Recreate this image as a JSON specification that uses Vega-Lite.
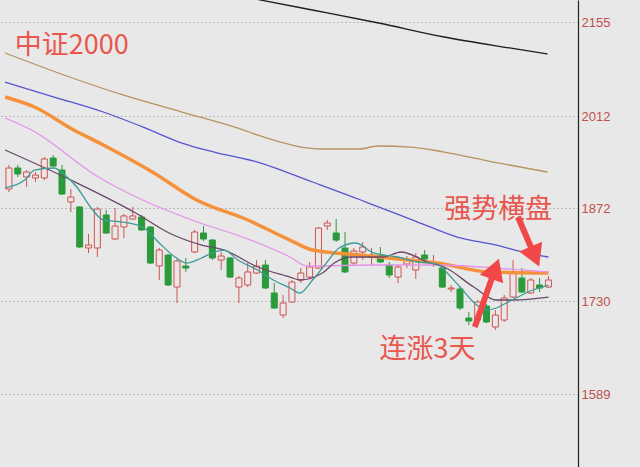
{
  "$schema": "https://vega.github.io/schema/vega-lite/v6.json",
  "width": 578,
  "height": 467,
  "autosize": {"type": "none"},
  "padding": {"left": 0, "top": 0, "right": 62, "bottom": 0},
  "background": "#e8e8e8",
  "config": {
    "view": {"stroke": null},
    "axis": {"labelFont": "Liberation Sans"}
  },
  "datasets": {
    "candles": [
      {"i":0,"o":1900.9,"h":1937.5,"l":1896.4,"c":1932.9},
      {"i":1,"o":1932.9,"h":1937.5,"l":1919.2,"c":1923.8},
      {"i":2,"o":1919.2,"h":1929.8,"l":1904.0,"c":1926.8},
      {"i":3,"o":1917.7,"h":1926.8,"l":1911.6,"c":1922.2},
      {"i":4,"o":1917.7,"h":1949.6,"l":1914.6,"c":1946.6},
      {"i":5,"o":1948.1,"h":1952.7,"l":1934.4,"c":1935.9},
      {"i":6,"o":1929.8,"h":1937.5,"l":1891.8,"c":1893.3},
      {"i":7,"o":1881.2,"h":1900.9,"l":1865.9,"c":1888.8},
      {"i":8,"o":1873.6,"h":1875.1,"l":1811.2,"c":1812.7},
      {"i":9,"o":1811.2,"h":1832.5,"l":1803.6,"c":1815.7},
      {"i":10,"o":1811.2,"h":1873.6,"l":1797.5,"c":1870.5},
      {"i":11,"o":1861.4,"h":1869.0,"l":1832.5,"c":1834.0},
      {"i":12,"o":1824.9,"h":1872.0,"l":1823.3,"c":1844.6},
      {"i":13,"o":1843.1,"h":1862.9,"l":1826.4,"c":1859.9},
      {"i":14,"o":1855.3,"h":1873.6,"l":1853.8,"c":1859.9},
      {"i":15,"o":1858.3,"h":1861.4,"l":1837.0,"c":1838.6},
      {"i":16,"o":1843.1,"h":1844.6,"l":1786.8,"c":1788.3},
      {"i":17,"o":1783.8,"h":1811.2,"l":1762.5,"c":1808.1},
      {"i":18,"o":1800.5,"h":1802.0,"l":1753.4,"c":1754.9},
      {"i":19,"o":1751.8,"h":1794.4,"l":1727.5,"c":1791.4},
      {"i":20,"o":1783.8,"h":1796.0,"l":1774.7,"c":1780.7},
      {"i":21,"o":1805.1,"h":1838.6,"l":1803.6,"c":1835.5},
      {"i":22,"o":1834.0,"h":1844.6,"l":1821.8,"c":1824.9},
      {"i":23,"o":1823.3,"h":1824.9,"l":1792.9,"c":1796.0},
      {"i":24,"o":1792.9,"h":1805.1,"l":1777.7,"c":1799.0},
      {"i":25,"o":1796.0,"h":1797.5,"l":1765.5,"c":1767.0},
      {"i":26,"o":1751.8,"h":1768.6,"l":1727.5,"c":1765.5},
      {"i":27,"o":1754.9,"h":1788.3,"l":1751.8,"c":1774.7},
      {"i":28,"o":1773.1,"h":1792.9,"l":1771.6,"c":1783.8},
      {"i":29,"o":1785.3,"h":1792.9,"l":1748.8,"c":1750.3},
      {"i":30,"o":1742.7,"h":1757.9,"l":1718.4,"c":1719.9},
      {"i":31,"o":1709.2,"h":1739.7,"l":1704.7,"c":1727.5},
      {"i":32,"o":1729.0,"h":1762.5,"l":1727.5,"c":1759.4},
      {"i":33,"o":1762.5,"h":1780.7,"l":1757.9,"c":1773.1},
      {"i":34,"o":1767.0,"h":1789.9,"l":1765.5,"c":1782.3},
      {"i":35,"o":1780.7,"h":1843.1,"l":1779.2,"c":1841.6},
      {"i":36,"o":1844.6,"h":1853.8,"l":1838.6,"c":1849.2},
      {"i":37,"o":1834.0,"h":1855.3,"l":1820.3,"c":1823.3},
      {"i":38,"o":1811.2,"h":1835.5,"l":1773.1,"c":1774.7},
      {"i":39,"o":1788.3,"h":1811.2,"l":1785.3,"c":1806.6},
      {"i":40,"o":1805.1,"h":1820.3,"l":1792.9,"c":1812.7},
      {"i":41,"o":1797.5,"h":1811.2,"l":1785.3,"c":1800.5},
      {"i":42,"o":1800.5,"h":1812.7,"l":1788.3,"c":1789.9},
      {"i":43,"o":1785.3,"h":1789.9,"l":1765.5,"c":1770.1},
      {"i":44,"o":1767.0,"h":1785.3,"l":1757.9,"c":1782.3},
      {"i":45,"o":1786.8,"h":1799.0,"l":1780.7,"c":1792.9},
      {"i":46,"o":1777.7,"h":1803.6,"l":1764.0,"c":1797.5},
      {"i":47,"o":1800.5,"h":1808.1,"l":1792.9,"c":1794.4},
      {"i":48,"o":1786.8,"h":1800.5,"l":1782.3,"c":1789.9},
      {"i":49,"o":1780.7,"h":1785.3,"l":1750.3,"c":1751.8},
      {"i":50,"o":1748.8,"h":1754.9,"l":1744.2,"c":1750.3},
      {"i":51,"o":1748.8,"h":1751.8,"l":1716.8,"c":1719.9},
      {"i":52,"o":1704.7,"h":1713.8,"l":1694.0,"c":1700.1},
      {"i":53,"o":1701.6,"h":1732.1,"l":1698.6,"c":1729.0},
      {"i":54,"o":1722.9,"h":1726.0,"l":1697.1,"c":1698.6},
      {"i":55,"o":1691.0,"h":1716.8,"l":1686.4,"c":1709.2},
      {"i":56,"o":1701.6,"h":1739.7,"l":1698.6,"c":1735.1},
      {"i":57,"o":1736.6,"h":1792.9,"l":1735.1,"c":1774.7},
      {"i":58,"o":1765.5,"h":1780.7,"l":1742.7,"c":1744.2},
      {"i":59,"o":1742.7,"h":1765.5,"l":1741.2,"c":1762.5},
      {"i":60,"o":1754.9,"h":1765.5,"l":1744.2,"c":1750.3},
      {"i":61,"o":1751.8,"h":1768.6,"l":1750.3,"c":1762.5}
    ],
    "ma": [
      {"s":"MA250","i":27.3,"v":2191.5},{"s":"MA250","i":34.3,"v":2173.3},{"s":"MA250","i":41.8,"v":2153.5},{"s":"MA250","i":49.2,"v":2132.2},{"s":"MA250","i":56.6,"v":2115.5},{"s":"MA250","i":60.9,"v":2106.3},
      {"s":"MA120","i":-0.44,"v":2107.9},{"s":"MA120","i":6.22,"v":2074.4},{"s":"MA120","i":12.89,"v":2044.0},{"s":"MA120","i":19.56,"v":2018.1},{"s":"MA120","i":25.89,"v":1993.7},{"s":"MA120","i":28.78,"v":1980.1},{"s":"MA120","i":35.44,"v":1961.8},{"s":"MA120","i":39.56,"v":1961.8},{"s":"MA120","i":41.78,"v":1966.4},{"s":"MA120","i":45.44,"v":1964.8},{"s":"MA120","i":49.22,"v":1957.2},{"s":"MA120","i":54.78,"v":1942.0},{"s":"MA120","i":60.89,"v":1926.8},
      {"s":"MA60","i":-0.44,"v":2063.7},{"s":"MA60","i":5.11,"v":2040.9},{"s":"MA60","i":10.67,"v":2018.1},{"s":"MA60","i":15.44,"v":1993.7},{"s":"MA60","i":19.56,"v":1970.9},{"s":"MA60","i":23.22,"v":1957.2},{"s":"MA60","i":28.11,"v":1942.0},{"s":"MA60","i":34.33,"v":1911.6},{"s":"MA60","i":39.78,"v":1884.2},{"s":"MA60","i":41.78,"v":1873.6},{"s":"MA60","i":46.22,"v":1850.7},{"s":"MA60","i":50.67,"v":1827.9},{"s":"MA60","i":55.11,"v":1815.7},{"s":"MA60","i":58.11,"v":1805.1},{"s":"MA60","i":61.0,"v":1797.5},
      {"s":"MA30","i":-0.44,"v":2040.9},{"s":"MA30","i":2.89,"v":2025.7},{"s":"MA30","i":7.33,"v":1990.7},{"s":"MA30","i":10.67,"v":1967.9},{"s":"MA30","i":16.22,"v":1926.8},{"s":"MA30","i":21.22,"v":1884.2},{"s":"MA30","i":27.0,"v":1853.8},{"s":"MA30","i":31.78,"v":1823.3},{"s":"MA30","i":34.33,"v":1808.1},{"s":"MA30","i":39.56,"v":1800.5},{"s":"MA30","i":44.0,"v":1794.4},{"s":"MA30","i":48.44,"v":1788.3},{"s":"MA30","i":54.33,"v":1774.7},{"s":"MA30","i":61.0,"v":1773.1},
      {"s":"MA20","i":-0.44,"v":2009.0},{"s":"MA20","i":2.56,"v":1990.7},{"s":"MA20","i":10.11,"v":1919.2},{"s":"MA20","i":15.11,"v":1884.2},{"s":"MA20","i":20.67,"v":1853.8},{"s":"MA20","i":27.33,"v":1823.3},{"s":"MA20","i":31.78,"v":1797.5},{"s":"MA20","i":33.67,"v":1783.8},{"s":"MA20","i":41.78,"v":1785.3},{"s":"MA20","i":48.44,"v":1785.3},{"s":"MA20","i":55.11,"v":1780.7},{"s":"MA20","i":61.0,"v":1774.7},
      {"s":"MA10","i":-0.44,"v":1960.3},{"s":"MA10","i":7.0,"v":1914.6},{"s":"MA10","i":14.33,"v":1864.4},{"s":"MA10","i":18.11,"v":1834.0},{"s":"MA10","i":21.78,"v":1815.7},{"s":"MA10","i":24.33,"v":1808.1},{"s":"MA10","i":28.11,"v":1782.3},{"s":"MA10","i":31.78,"v":1767.0},{"s":"MA10","i":32.89,"v":1762.5},{"s":"MA10","i":35.44,"v":1773.1},{"s":"MA10","i":36.78,"v":1788.3},{"s":"MA10","i":38.67,"v":1797.5},{"s":"MA10","i":42.33,"v":1797.5},{"s":"MA10","i":44.33,"v":1805.1},{"s":"MA10","i":47.33,"v":1789.9},{"s":"MA10","i":49.22,"v":1782.3},{"s":"MA10","i":52.56,"v":1751.8},{"s":"MA10","i":55.11,"v":1732.1},{"s":"MA10","i":57.0,"v":1732.1},{"s":"MA10","i":61.0,"v":1736.6},
      {"s":"MA5","i":-0.44,"v":1902.5},{"s":"MA5","i":1.78,"v":1914.6},{"s":"MA5","i":2.89,"v":1929.8},{"s":"MA5","i":5.11,"v":1932.9},{"s":"MA5","i":6.56,"v":1919.2},{"s":"MA5","i":7.67,"v":1904.0},{"s":"MA5","i":9.22,"v":1873.6},{"s":"MA5","i":10.67,"v":1853.8},{"s":"MA5","i":12.89,"v":1850.7},{"s":"MA5","i":15.11,"v":1843.1},{"s":"MA5","i":17.0,"v":1818.8},{"s":"MA5","i":18.78,"v":1797.5},{"s":"MA5","i":20.11,"v":1788.3},{"s":"MA5","i":21.78,"v":1796.0},{"s":"MA5","i":23.22,"v":1805.1},{"s":"MA5","i":24.33,"v":1808.1},{"s":"MA5","i":25.89,"v":1792.9},{"s":"MA5","i":28.11,"v":1777.7},{"s":"MA5","i":29.89,"v":1762.5},{"s":"MA5","i":31.78,"v":1750.3},{"s":"MA5","i":32.89,"v":1742.7},{"s":"MA5","i":34.33,"v":1762.5},{"s":"MA5","i":35.89,"v":1788.3},{"s":"MA5","i":37.33,"v":1811.2},{"s":"MA5","i":39.22,"v":1818.8},{"s":"MA5","i":41.22,"v":1803.6},{"s":"MA5","i":44.0,"v":1797.5},{"s":"MA5","i":46.22,"v":1789.9},{"s":"MA5","i":48.44,"v":1786.8},{"s":"MA5","i":49.22,"v":1777.7},{"s":"MA5","i":51.0,"v":1751.8},{"s":"MA5","i":52.89,"v":1724.4},{"s":"MA5","i":54.0,"v":1716.8},{"s":"MA5","i":55.11,"v":1719.9},{"s":"MA5","i":56.22,"v":1727.5},{"s":"MA5","i":57.33,"v":1735.1},{"s":"MA5","i":59.22,"v":1747.3},{"s":"MA5","i":61.0,"v":1754.9}
    ],
    "title": [
      {"t":"中证2000","i":0.67,"v":2118.5}
    ],
    "notes": [
      {"t":"强势横盘","i":55.33,"v":1869.0},
      {"t":"连涨3天","i":47.33,"v":1656.0}
    ],
    "arrows": [
      {"a":"up","i1":52.67,"v1":1691.0,"i2":54.98,"v2":1779.5},
      {"a":"down","i1":57.56,"v1":1858.3,"i2":59.47,"v2":1798.2}
    ]
  },
  "encoding": {
    "x": {"type": "quantitative", "scale": {"domain": [-0.444, 63.778], "nice": false, "zero": false}, "axis": null}
  },
  "layer": [
    {
      "data": {"name": "candles"},
      "mark": {"type": "rule", "strokeWidth": 1},
      "encoding": {
        "x": {"field": "i", "type": "quantitative"},
        "y": {"field": "l", "type": "quantitative",
              "scale": {"domain": [1478, 2188.5], "nice": false, "zero": false},
              "axis": {"orient": "right", "values": [1589, 1730, 1872, 2012, 2155], "format": "d", "title": null,
                       "labelColor": "#c0504d", "labelFontSize": 13, "labelPadding": 3,
                       "ticks": false, "domain": true, "domainColor": "#222", "domainWidth": 1.2,
                       "grid": true, "gridColor": "#8c8c8c", "gridDash": [1, 3], "gridWidth": 1}},
        "y2": {"field": "h"},
        "color": {"condition": {"test": "datum.c >= datum.o", "value": "#cc5555"}, "value": "#2a9a3a"}
      }
    },
    {
      "data": {"name": "candles"},
      "mark": {"type": "bar", "strokeWidth": 1},
      "encoding": {
        "x": {"field": "i", "type": "quantitative"},
        "y": {"field": "o", "type": "quantitative"},
        "y2": {"field": "c"},
        "size": {"value": 6},
        "fill": {"condition": {"test": "datum.c >= datum.o", "value": "#ece6e6"}, "value": "#2a9a3a"},
        "stroke": {"condition": {"test": "datum.c >= datum.o", "value": "#cc5555"}, "value": "#2a9a3a"}
      }
    },
    {
      "data": {"name": "ma"},
      "mark": {"type": "line", "clip": true, "interpolate": "monotone"},
      "encoding": {
        "x": {"field": "i", "type": "quantitative"},
        "y": {"field": "v", "type": "quantitative"},
        "color": {"field": "s", "type": "nominal", "legend": null,
                  "scale": {"domain": ["MA5", "MA10", "MA20", "MA30", "MA60", "MA120", "MA250"],
                            "range": ["#3f9a9a", "#6a4868", "#e592e8", "#f5913a", "#5555d0", "#b8925f", "#1e1e1e"]}},
        "strokeWidth": {"condition": {"test": "datum.s === 'MA30'", "value": 3.5}, "value": 1.3}
      }
    },
    {
      "data": {"name": "arrows"},
      "mark": {"type": "rule", "strokeWidth": 6, "color": "#f04848"},
      "encoding": {
        "x": {"field": "i1", "type": "quantitative"},
        "y": {"field": "v1", "type": "quantitative"},
        "x2": {"field": "i2"},
        "y2": {"field": "v2"}
      }
    },
    {
      "data": {"name": "arrows"},
      "transform": [{"filter": "datum.a === 'up'"}],
      "mark": {"type": "point", "shape": "triangle-up", "filled": true, "size": 620, "angle": 20, "color": "#f04848", "opacity": 1},
      "encoding": {
        "x": {"field": "i2", "type": "quantitative"},
        "y": {"field": "v2", "type": "quantitative"}
      }
    },
    {
      "data": {"name": "arrows"},
      "transform": [{"filter": "datum.a === 'down'"}],
      "mark": {"type": "point", "shape": "triangle-up", "filled": true, "size": 620, "angle": 157, "color": "#f04848", "opacity": 1},
      "encoding": {
        "x": {"field": "i2", "type": "quantitative"},
        "y": {"field": "v2", "type": "quantitative"}
      }
    },
    {
      "data": {"name": "title"},
      "mark": {"type": "text", "font": "Noto Sans CJK SC", "fontSize": 27, "color": "#e8564e", "baseline": "middle", "align": "left"},
      "encoding": {
        "x": {"field": "i", "type": "quantitative"},
        "y": {"field": "v", "type": "quantitative"},
        "text": {"field": "t"}
      }
    },
    {
      "data": {"name": "notes"},
      "mark": {"type": "text", "font": "Noto Sans CJK SC", "fontSize": 27, "color": "#e8564e", "baseline": "middle", "align": "center"},
      "encoding": {
        "x": {"field": "i", "type": "quantitative"},
        "y": {"field": "v", "type": "quantitative"},
        "text": {"field": "t"}
      }
    }
  ]
}
